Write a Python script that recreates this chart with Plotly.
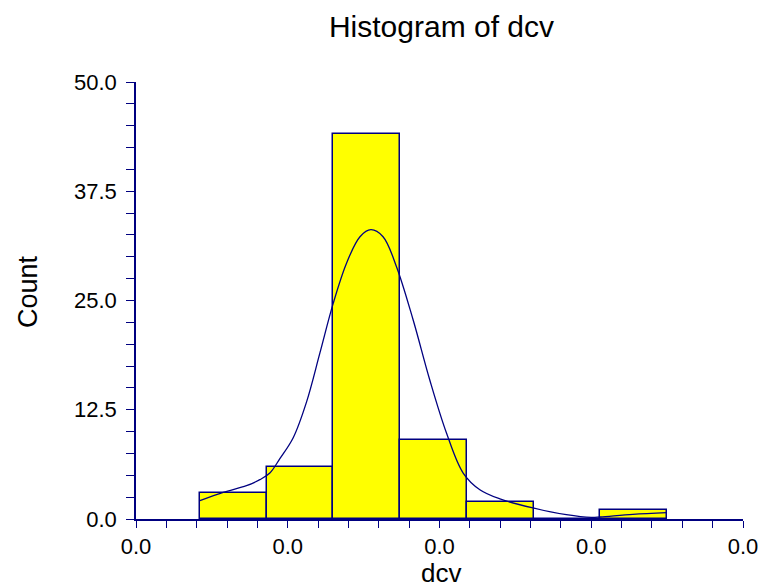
import plotly.graph_objects as go

# ---- data ----
bin_left = [0.0042, 0.0086, 0.0130, 0.0174, 0.0218, 0.0262, 0.0306]
bin_width = 0.0044
counts = [3, 6, 44, 9, 2, 0, 1]

curve_x = [0.00421, 0.00575, 0.00728, 0.00816, 0.00882, 0.00948, 0.01036, 0.01124,
           0.01212, 0.01300, 0.01388, 0.01476, 0.01548, 0.01628, 0.01716, 0.01826,
           0.01936, 0.02046, 0.02156, 0.02266, 0.02398, 0.02616, 0.02836, 0.03000,
           0.03060, 0.03274, 0.03498]
curve_y = [2.09, 3.04, 3.81, 4.5, 5.26, 6.9, 9.3, 13.4,
           19.0, 24.7, 29.3, 32.3, 33.1, 32.3, 28.9, 22.8,
           15.9, 9.84, 5.26, 3.35, 2.3, 1.26, 0.49, 0.18,
           0.23, 0.53, 0.72]

x_tick_vals = [0.0, 0.01, 0.02, 0.03, 0.04]
x_tick_text = ["0.0", "0.0", "0.0", "0.0", "0.0"]
y_tick_vals = [0.0, 12.5, 25.0, 37.5, 50.0]
y_tick_text = ["0.0", "12.5", "25.0", "37.5", "50.0"]

NAVY = "#000080"
FONT = "Liberation Sans, Arial, sans-serif"

W, H = 761, 588
L, T, R, B = 136, 82, 18, 69
PW, PH = W - L - R, H - T - B

bar_centers = [b + bin_width / 2 for b in bin_left]

fig = go.Figure()
fig.add_trace(go.Bar(
    x=bar_centers, y=counts, width=bin_width,
    marker=dict(color="#FFFF00", line=dict(color=NAVY, width=1.5)),
    hoverinfo="x+y", showlegend=False,
))
fig.add_trace(go.Scatter(
    x=curve_x, y=curve_y, mode="lines",
    line=dict(color=NAVY, width=1.3, shape="spline", smoothing=1.0),
    showlegend=False, hoverinfo="skip",
))

fig.update_layout(
    width=W, height=H,
    margin=dict(l=L, r=R, t=T, b=B, pad=0, autoexpand=False),
    paper_bgcolor="white", plot_bgcolor="white",
    bargap=0,
    font=dict(family=FONT, color="black"),
    title=dict(text="Histogram of dcv", x=441.5 / W, xanchor="center",
               y=1 - 26 / H, yanchor="middle", font=dict(size=30, family=FONT)),
    xaxis=dict(range=[0, 0.04], tickmode="array", tickvals=x_tick_vals, ticktext=x_tick_text,
               automargin=False,
               ticks="outside", ticklen=7, tickwidth=1.2, tickcolor=NAVY,
               showline=True, linecolor=NAVY, linewidth=1.5, showgrid=False, zeroline=False,
               tickfont=dict(size=22, family=FONT),
               minor=dict(dtick=0.002, tick0=0, ticks="outside", ticklen=7, tickwidth=1.2,
                          tickcolor=NAVY, showgrid=False)),
    yaxis=dict(range=[0, 50], tickmode="array", tickvals=y_tick_vals, ticktext=y_tick_text,
               automargin=False, ticklabelstandoff=5,
               ticks="outside", ticklen=8, tickwidth=1.2, tickcolor=NAVY,
               showline=True, linecolor=NAVY, linewidth=1.5, showgrid=False, zeroline=False,
               tickfont=dict(size=22, family=FONT),
               minor=dict(dtick=2.5, tick0=0, ticks="outside", ticklen=8, tickwidth=1.2,
                          tickcolor=NAVY, showgrid=False)),
    annotations=[
        dict(text="Count", textangle=-90, xref="paper", yref="paper",
             x=(28 - 136) / PW, y=(519 - 292) / PH, xanchor="center", yanchor="middle",
             showarrow=False, font=dict(size=27, family=FONT)),
        dict(text="dcv", xref="paper", yref="paper",
             x=(441 - 136) / PW, y=(519 - 573) / PH, xanchor="center", yanchor="middle",
             showarrow=False, font=dict(size=26, family=FONT)),
    ],
)

# remove the default page margin so the figure fills the 761x588 window exactly
fig.write_html(
    "out.html",
    config={"displayModeBar": False},
    post_script="document.body.style.margin='0';document.body.style.overflow='hidden';",
)
